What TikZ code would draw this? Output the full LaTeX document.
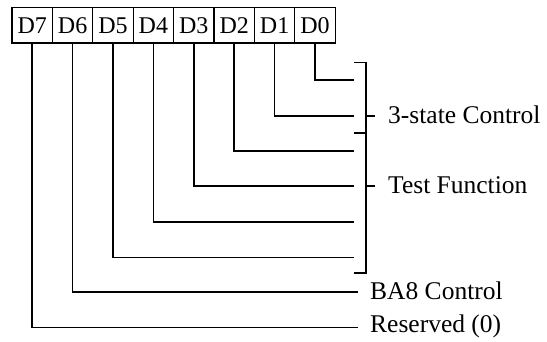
\documentclass[tikz,border=0pt]{standalone}
\usepackage{fontspec}
\setmainfont{Liberation Serif}
\begin{document}
\begin{tikzpicture}[x=1pt,y=-1pt,
  bitbox/.style={draw,line width=1.2pt,minimum width=40.4pt,minimum height=35.5pt,inner sep=0pt,font=\fontsize{24}{26}\selectfont},
  wire/.style={line width=1.6pt},
  lbl/.style={anchor=west,inner sep=0pt,font=\fontsize{25.5}{27}\selectfont}]
\useasboundingbox (0,0) rectangle (547,341);
\foreach \i [count=\k from 0] in {7,6,5,4,3,2,1,0}{
  \node[bitbox] (d\i) at ({32.2+40.4*\k},25.3) {D\i};
}
\coordinate (e0) at (354,80);
\coordinate (e1) at (354,115.7);
\coordinate (e2) at (354,150.7);
\coordinate (e3) at (354,186);
\coordinate (e4) at (354,221.7);
\coordinate (e5) at (354,257.3);
\coordinate (e6) at (358,291.7);
\coordinate (e7) at (358,327.3);
\foreach \i in {0,...,7}{
  \draw[wire] (d\i.south) |- (e\i);
}
% bracket
\coordinate (bt) at (365.7,62.3);
\coordinate (bm) at (365.7,132.7);
\coordinate (bb) at (365.7,272.7);
\draw[wire] (354,62.3) -- (bt) -- (bb) -- (354,272.7);
\draw[wire] (354,132.7) -- (bm);
\coordinate (c1) at (365.7,115.7);
\coordinate (c3) at (365.7,186);
\node[lbl] (l1) at (388,115.2) {3-state Control};
\node[lbl] (l3) at (388,185.5) {Test Function};
\draw[wire] (c1) -- (375,115.7);
\draw[wire] (c3) -- (375,186);
\node[lbl] (l6) at (370,291.2) {BA8 Control};
\node[lbl] (l7) at (370,326.8) {Reserved (0)};
\end{tikzpicture}
\end{document}
